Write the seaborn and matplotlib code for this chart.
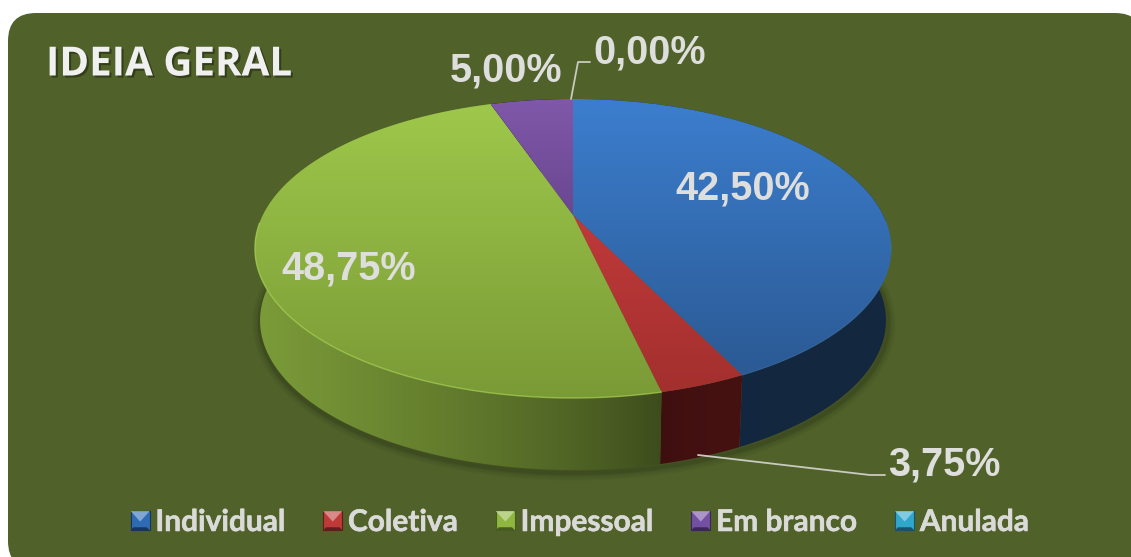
import numpy as np
import matplotlib
matplotlib.use("Agg")
import matplotlib.pyplot as plt
import seaborn as sns
from matplotlib.patches import FancyBboxPatch, Polygon, Rectangle
from matplotlib.legend_handler import HandlerBase
from matplotlib.colors import to_rgb
import matplotlib.patheffects as pe

categories = ["Individual", "Coletiva", "Impessoal", "Em branco", "Anulada"]
values = [42.50, 3.75, 48.75, 5.00, 0.00]
base_colors = ["#2F6AB4", "#BE3A38", "#8FB63F", "#7450A4", "#2FA6CC"]
top_grad = [("#3C7ECE", "#2B5A94"), ("#C0393A", "#A3302E"), ("#9EC84B", "#7A9A36"),
            ("#8058A9", "#6A4791"), ("#3BA3C4", "#3BA3C4")]
wall_grad = [("#14283F", "#122540"), ("#461211", "#3E0F0F"), ("#7C9C39", "#39471A"),
             ("#000000", "#000000"), ("#000000", "#000000")]
title = "IDEIA GERAL"
label_xy = [(743, 189), (944, 465), (349, 269), (506, 71), (650, 53)]

sns.set_theme(style="white")
BG = "#50612A"
LBL = "#DEDEDC"

fig = plt.figure(figsize=(11.31, 5.57), dpi=100, facecolor="white")
ax = fig.add_axes([0, 0, 1, 1])
ax.set_axis_off()


def proj(frac, b=310.0, dy=0.0):
    """Perspective projection of a rim point; frac runs clockwise from the top."""
    th = 2 * np.pi * np.asarray(frac)
    th = th + 0.045 * np.sin(th)
    c, s = np.sin(th), np.cos(th)
    k, a = 0.224, 142.0
    d = 1 + k * s
    return 573 + b * c / d, 215 - a * s / d + dy


def grad_fill(poly, c0, c1, horizontal=False, span=None, z=2):
    xy = np.asarray(poly)
    x0, x1 = (xy[:, 0].min(), xy[:, 0].max()) if span is None else span
    y0, y1 = xy[:, 1].min(), xy[:, 1].max()
    t = np.linspace(0, 1, 128)
    if horizontal:
        t = t ** 0.75
    col = np.outer(1 - t, to_rgb(c0)) + np.outer(t, to_rgb(c1))
    img = col[None, :, :] if horizontal else col[:, None, :]
    ext = (x0, x1, y1, y0)
    if not horizontal:
        ext = (xy[:, 0].min(), xy[:, 0].max(), y1, y0)
    im = ax.imshow(img, extent=ext, aspect="auto", interpolation="bilinear", zorder=z)
    p = Polygon(xy, closed=True, transform=ax.transData, fc="none", ec="none")
    ax.add_patch(p)
    im.set_clip_path(p)
    return im


ax.add_patch(FancyBboxPatch((8, 13), 1135, 556, boxstyle="round,pad=0,rounding_size=28",
                            fc=BG, ec="none", zorder=0))

edges = np.concatenate([[0], np.cumsum(values)]) / 100.0

# soft shadow under the wall
f = np.linspace(0.22, 0.80, 200)
sx, sy = proj(f, b=306, dy=72)
for lw, al in [(11, 0.05), (8, 0.07), (5, 0.10), (3, 0.14)]:
    ax.plot(sx + 1, sy + 3, color="#1E2610", lw=lw, alpha=al, zorder=1, solid_capstyle="round")

# side wall
for i in range(len(values)):
    if values[i] <= 0:
        continue
    f = np.linspace(edges[i], edges[i + 1], 160)
    tx, ty = proj(f)
    bx, by = proj(f, b=305, dy=72)
    poly = np.column_stack([np.r_[tx, bx[::-1]], np.r_[ty, by[::-1]]])
    grad_fill(poly, wall_grad[i][1], wall_grad[i][0], horizontal=True,
              span=(672, 250) if i == 2 else None, z=2)

# top faces
for i in range(len(values)):
    if values[i] <= 0:
        continue
    f = np.linspace(edges[i], edges[i + 1], 200)
    tx, ty = proj(f)
    poly = np.column_stack([np.r_[573, tx], np.r_[215, ty]])
    grad_fill(poly, *top_grad[i], z=3)

# rim highlight on the front edge of the big slices
f = np.linspace(edges[2], edges[3], 240)
f = f[f < 0.75]
rx, ry = proj(f)
ax.plot(rx, ry, color="#A8D256", lw=1.0, alpha=0.7, zorder=4)
f = np.linspace(0.25, edges[1], 100)
rx, ry = proj(f)
ax.plot(rx, ry, color="#4A86D2", lw=0.8, alpha=0.3, zorder=4)

# leader lines
ax.plot([571, 578, 590], [99, 62, 62], color="#C9CAC0", lw=1.3, zorder=5)
ax.plot([698, 870, 885], [455, 475, 475], color="#C9CAC0", lw=1.3, zorder=5)

# data labels
for v, (x, y) in zip(values, label_xy):
    ax.text(x, y, f"{v:.2f}%".replace(".", ","), ha="center", va="center", color=LBL,
            fontsize=28.5, fontweight="bold", family="Liberation Sans", zorder=6)

# title
ax.text(46, 65, title, ha="left", va="center", color="#F0F0F0", fontsize=29,
        fontweight="bold", family="Open Sans", zorder=6,
        path_effects=[pe.withSimplePatchShadow(offset=(1.5, -1.5), shadow_rgbFace="#20280F", alpha=0.6)])


class BevelSquare:
    def __init__(self, color):
        self.color = color


class BevelHandler(HandlerBase):
    def create_artists(self, legend, orig, xd, yd, w, h, fontsize, trans):
        s = 19.0 / 100 * 72  # about 19 px in points
        x0 = -xd + (w - s) / 2
        y0 = -yd + (h - s) / 2
        base = np.array(to_rgb(orig.color))
        light = np.clip(base * 0.6 + 0.4, 0, 1)
        dark = base * 0.5
        out = [Rectangle((x0, y0), s, s, fc=base, ec=dark, lw=0.8, transform=trans),
               Polygon([(x0, y0 + s), (x0 + s, y0 + s), (x0 + s / 2, y0 + s * 0.45)],
                       fc=light, ec="none", transform=trans),
               Polygon([(x0, y0), (x0 + s, y0), (x0 + s * 0.85, y0 + s * 0.15), (x0 + s * 0.15, y0 + s * 0.15)],
                       fc=dark, ec="none", transform=trans)]
        return out


handles = [BevelSquare(c) for c in base_colors]
leg = ax.legend(handles, categories, handler_map={BevelSquare: BevelHandler()}, ncol=5,
                loc="center", bbox_to_anchor=(580 / 1131, 1 - 522 / 557),
                frameon=False, handlelength=0.62, handleheight=0.8, handletextpad=0.2,
                columnspacing=1.28,
                prop={"family": "Lato", "weight": "bold", "size": 21.5})
for t in leg.get_texts():
    t.set_color("#DADAD8")
    t.set_path_effects([pe.withStroke(linewidth=0.4, foreground="#DADAD8")])
leg.set_zorder(7)

ax.set_xlim(0, 1131)
ax.set_ylim(557, 0)
fig.savefig("out.png", dpi=100, facecolor="white")
